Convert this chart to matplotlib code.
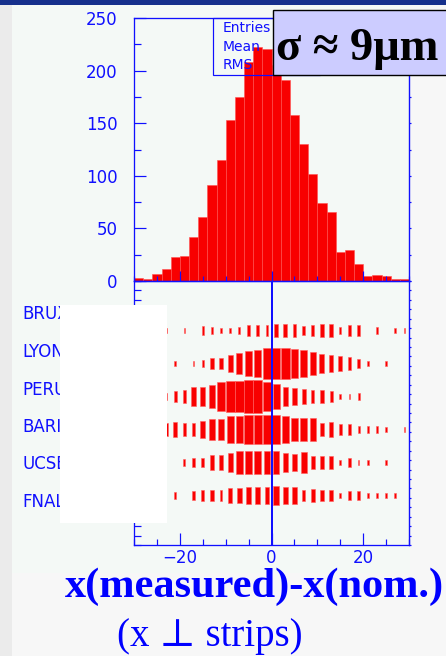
import numpy as np
import matplotlib
matplotlib.use("Agg")
import matplotlib.pyplot as plt
from matplotlib.patches import Rectangle
from matplotlib.ticker import MultipleLocator, FixedLocator

# ---- data -------------------------------------------------------------
# residual histogram: 2 um bins from -30 to +30 um
bin_edges = np.arange(-30, 31, 2)
hist_counts = [3, 2, 7, 11, 23, 24, 42, 61, 91, 115, 153, 175, 208, 222, 221,
               205, 191, 158, 130, 102, 74, 66, 28, 29, 16, 5, 6, 5, 2, 2]

# per-site residual counts, same 30 bins (box plot rows)
sites = ["BRUX", "LYON", "PERU", "BARI", "UCSB", "FNAL"]
brux = [0, 0, 1, 1, 0, 1, 0, 4, 3, 1, 1, 3, 8, 6, 6,
        9, 11, 9, 4, 7, 9, 10, 3, 6, 6, 0, 3, 0, 1, 2]
lyon = [0, 0, 0, 0, 1, 0, 1, 3, 8, 8, 16, 27, 37, 42, 56,
        59, 59, 47, 42, 32, 20, 16, 13, 10, 4, 1, 0, 1, 0, 0]
peru = [1, 1, 2, 3, 7, 10, 22, 22, 32, 53, 57, 60, 65, 62, 47,
        39, 23, 16, 12, 9, 9, 7, 2, 1, 3, 0, 0, 0, 0, 0]
bari = [1, 1, 2, 9, 13, 11, 11, 16, 27, 27, 42, 42, 53, 49, 49,
        47, 42, 34, 32, 32, 10, 14, 8, 8, 3, 3, 3, 2, 0, 1]
ucsb = [0, 0, 0, 0, 0, 3, 5, 5, 13, 13, 20, 32, 30, 34, 30,
        32, 21, 18, 27, 10, 10, 10, 2, 4, 2, 2, 0, 2, 0, 0]
fnal = [0, 0, 0, 0, 3, 0, 4, 8, 8, 6, 12, 14, 16, 16, 16,
        22, 16, 16, 8, 10, 8, 8, 2, 5, 5, 1, 2, 1, 1, 0]
site_counts = [brux, lyon, peru, bari, ucsb, fnal]

y_ticks = [0, 50, 100, 150, 200, 250]
x_ticks = [-20, 0, 20]

# ---- figure -----------------------------------------------------------
W, H = 446, 656
fig = plt.figure(figsize=(W / 100, H / 100), dpi=100)
fig.patch.set_facecolor("#f7f7f7")

BLUE = "#1010ff"
RED = "#f80000"
CANVAS = "#f4f9f6"


def fx(px):
    return px / W


def fy(py):
    return 1 - py / H


def frect(x0, y0, x1, y1, **kw):
    r = Rectangle((fx(x0), fy(y1)), fx(x1) - fx(x0), fy(y0) - fy(y1),
                  transform=fig.transFigure, **kw)
    fig.patches.append(r)
    return r


# slide background and pad
frect(0, 0, 12, 656, facecolor="#ebebeb", edgecolor="none", zorder=-10)
frect(0, 0, 446, 5, facecolor="#16308c", edgecolor="none", zorder=-9)
frect(12, 5, 410, 573, facecolor=CANVAS, edgecolor="none", zorder=-9)

PT = 0.72  # points per pixel at 100 dpi

# ---- top panel: histogram --------------------------------------------
ax1 = fig.add_axes([fx(134), fy(281), fx(409) - fx(134), fy(18) - fy(281)])
ax1.set_facecolor("none")
ax1.bar(bin_edges[:-1], hist_counts, width=2, align="edge", color=RED,
        edgecolor="#ff5050", linewidth=0.4)
ax1.set_xlim(-30, 30)
ax1.set_ylim(0, 250)
ax1.yaxis.set_major_locator(FixedLocator(y_ticks))
ax1.yaxis.set_minor_locator(MultipleLocator(25))
ax1.xaxis.set_major_locator(FixedLocator(x_ticks))
ax1.xaxis.set_minor_locator(MultipleLocator(5))
ax1.tick_params(axis="y", which="major", direction="in", length=12 * PT,
                width=1.2 * PT, color=BLUE, labelcolor=BLUE, labelsize=12,
                pad=12)
ax1.tick_params(axis="y", which="minor", direction="in", length=7 * PT,
                width=1.2 * PT, color=BLUE)
ax1.tick_params(axis="x", which="major", direction="in", length=10 * PT,
                width=1.2 * PT, color=BLUE, labelbottom=False)
ax1.tick_params(axis="x", which="minor", direction="in", length=5 * PT,
                width=1.2 * PT, color=BLUE)
for s in ax1.spines.values():
    s.set_color(BLUE)
    s.set_linewidth(1.3 * PT)
sec1 = ax1.secondary_yaxis("right")
sec1.yaxis.set_major_locator(MultipleLocator(25))
sec1.tick_params(direction="out", length=2 * PT, width=1.2 * PT, color=BLUE,
                 labelright=False)
sec1.spines["right"].set_color(BLUE)

# ---- bottom panel: per-site box plot ---------------------------------
ax2 = fig.add_axes([fx(134), fy(545), fx(409) - fx(134), fy(281) - fy(545)])
ax2.set_facecolor("none")
ax2.set_xlim(-30, 30)
ax2.set_ylim(0, 8)
centers = (bin_edges[:-1] + bin_edges[1:]) / 2
bw = bin_edges[1] - bin_edges[0]
cmax = max(max(c) for c in site_counts)
for i, counts in enumerate(site_counts):
    yc = 6.5 - i
    for xc, c in zip(centers, counts):
        if c <= 0:
            continue
        r = np.sqrt(c / cmax)
        w = max(bw * r, 0.35)
        ax2.add_patch(Rectangle((xc - 0.5 * w, yc - 0.5 * r), w, r,
                                facecolor=RED, edgecolor="#ff6060",
                                linewidth=0.4))
ax2.axvline(0, color=BLUE, linewidth=2 * PT, zorder=5)
ax2.xaxis.set_major_locator(FixedLocator(x_ticks))
ax2.xaxis.set_minor_locator(MultipleLocator(5))
ax2.yaxis.set_major_locator(FixedLocator([]))
ax2.yaxis.set_minor_locator(MultipleLocator(8 / 28))
ax2.tick_params(axis="x", which="major", direction="in", length=12 * PT,
                width=1.2 * PT, color=BLUE, labelcolor=BLUE, labelsize=12,
                pad=3)
ax2.tick_params(axis="x", which="minor", direction="in", length=6 * PT,
                width=1.2 * PT, color=BLUE)
ax2.tick_params(axis="y", which="minor", direction="in", length=7 * PT,
                width=1.2 * PT, color=BLUE)
for s in ax2.spines.values():
    s.set_color(BLUE)
    s.set_linewidth(1.3 * PT)
sec2 = ax2.secondary_yaxis("right")
sec2.yaxis.set_major_locator(MultipleLocator(8 / 28))
sec2.tick_params(direction="out", length=2 * PT, width=1.2 * PT, color=BLUE,
                 labelright=False)
sec2.spines["right"].set_color(BLUE)

# site names (partly masked by the blank panel)
label_y = [314, 352, 390, 427, 464, 502]
for name, py in zip(sites, label_y):
    fig.text(fx(22), fy(py), name, color=BLUE, fontsize=12,
             family="DejaVu Sans", ha="left", va="center", zorder=3)
frect(60, 305, 167, 523, facecolor="white", edgecolor="none", zorder=5)

# stats box
frect(213, 18, 320, 75, facecolor="none", edgecolor=BLUE,
      linewidth=1.2 * PT, zorder=6)
for txt, py in zip(["Entries", "Mean", "RMS"], [28, 47, 65]):
    fig.text(fx(223), fy(py), txt, color=BLUE, fontsize=10,
             family="DejaVu Sans", ha="left", va="center", zorder=7)

# resolution annotation
frect(273, 10, 452, 75, facecolor="#ccccff", edgecolor="black",
      linewidth=1.4 * PT, zorder=8)
fig.text(fx(276), fy(60), "σ ≈ 9μm", color="black", fontsize=33.5,
         fontweight="bold", family=["Liberation Serif", "DejaVu Serif"],
         ha="left", va="baseline", zorder=9)

# axis caption
fig.text(fx(65), fy(597), "x(measured)-x(nom.)", color="#0000ff",
         fontsize=30.5, fontweight="bold",
         family=["Liberation Serif", "DejaVu Serif"],
         ha="left", va="baseline", zorder=9)
fig.text(fx(117), fy(646), "(x ⊥ strips)", color="#0000ff", fontsize=28,
         family=["Liberation Serif", "DejaVu Serif"],
         ha="left", va="baseline", zorder=9)

fig.savefig("out.png", dpi=100, facecolor=fig.get_facecolor())
